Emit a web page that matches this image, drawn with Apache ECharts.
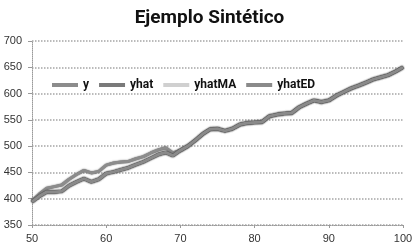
<!DOCTYPE html>
<html>
<head>
<meta charset="utf-8">
<script src="https://cdn.jsdelivr.net/npm/echarts@6/dist/echarts.min.js"></script>
<style>html,body{margin:0;padding:0;background:#fff}#c{width:419px;height:249px}</style>
</head>
<body>
<div id="c"></div>
<script>
var titleText = 'Ejemplo Sintético';
var xValues = [];
for (var i = 50; i <= 100; i++) xValues.push(i);
var yTicks = [350, 400, 450, 500, 550, 600, 650, 700];
var xTicks = [50, 60, 70, 80, 90, 100];
var seriesNames = ['y', 'yhat', 'yhatMA', 'yhatED'];

var y = [396, 409, 420, 423, 426, 437, 446, 454, 449, 452,
         464, 468, 470, 471, 476, 480, 487, 493, 497, 487,
         492, 500, 511, 523, 532, 533, 529, 533, 541, 544,
         545, 546, 557, 560, 562, 563, 574, 581, 587, 584,
         587, 596, 603, 610, 615, 621, 627, 631, 635, 642, 650];
var yhat = [394, 405, 413, 413, 414, 425, 432, 438, 432, 437,
            448, 451, 455, 459, 465, 470, 477, 484, 488, 482,
            492, 500, 511, 523, 532, 533, 529, 533, 541, 544,
            545, 546, 557, 560, 562, 563, 574, 581, 587, 584,
            587, 596, 603, 610, 615, 621, 627, 631, 635, 642, 650];
var yhatMA = yhat.slice();
var yhatED = yhat.slice();

function pairs(arr) { return arr.map(function (v, i) { return [xValues[i], v]; }); }

var colors = ['#8c8c8c', '#7a7a7a', '#d0d0d0', '#8a8a8a'];
var dataArrs = [y, yhat, yhatMA, yhatED];
var series = seriesNames.map(function (n, k) {
  return {
    name: n, type: 'line', data: pairs(dataArrs[k]), showSymbol: false, symbol: 'none',
    lineStyle: { color: colors[k], width: 3, shadowColor: 'rgba(60,60,60,0.9)', shadowBlur: 1.5 },
    itemStyle: { color: colors[k] },
    z: k === 2 ? 1 : 2 + k
  };
});

var chart = echarts.init(document.getElementById('c'), null, { renderer: 'canvas' });
chart.setOption({
  animation: false,
  backgroundColor: '#fff',
  title: {
    text: titleText, left: 'center', top: 4,
    textStyle: { fontFamily: 'Roboto', fontWeight: 'bold', fontSize: 19, color: '#111' }
  },
  legend: {
    data: seriesNames, top: 74, left: 47, itemGap: 10, itemWidth: 26, itemHeight: 4,
    icon: 'rect',
    textStyle: { fontFamily: 'Roboto', fontWeight: 'bold', fontSize: 12, color: '#111' }
  },
  grid: { left: 32, right: 16, top: 41, bottom: 24, containLabel: false },
  xAxis: {
    type: 'value', min: 50, max: 100, interval: 10,
    axisLine: { lineStyle: { color: '#9a9a9a', type: 'dotted' } },
    axisTick: { show: true, length: 3, lineStyle: { color: '#9a9a9a' } },
    axisLabel: { color: '#333', fontFamily: 'Liberation Sans', fontSize: 11, margin: 8 },
    splitLine: { show: false }
  },
  yAxis: {
    type: 'value', min: 350, max: 700, interval: 50,
    axisLine: { show: true, lineStyle: { color: '#9a9a9a', type: 'dotted' } },
    axisTick: { show: true, length: 4, lineStyle: { color: '#9a9a9a' } },
    axisLabel: { color: '#333', fontFamily: 'Liberation Sans', fontSize: 11, margin: 10 },
    splitLine: { show: true, lineStyle: { color: '#a5a5a5', type: 'dotted', width: 1.5 } }
  },
  series: series
});
</script>
</body>
</html>
